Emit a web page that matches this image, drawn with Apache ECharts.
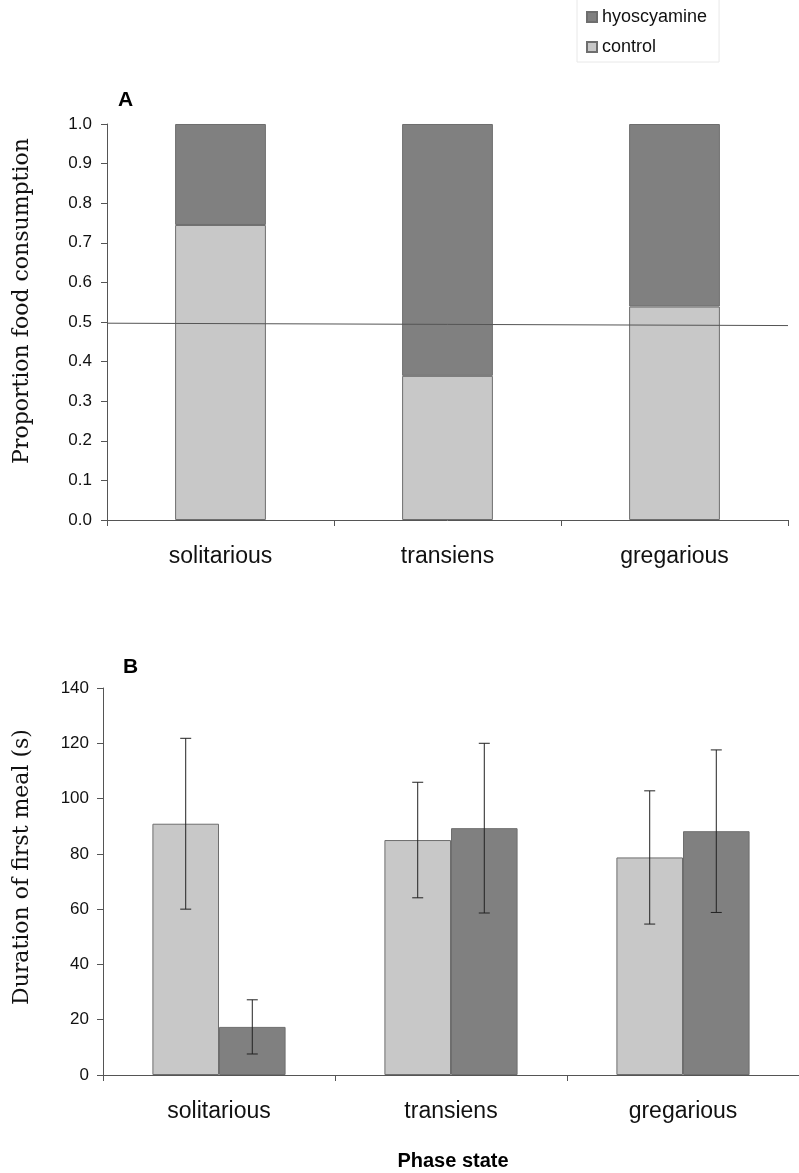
<!DOCTYPE html>
<html><head><meta charset="utf-8">
<script src="https://cdn.jsdelivr.net/npm/echarts@6/dist/echarts.min.js"></script>
<style>html,body{margin:0;padding:0;background:#fff}#c{width:799px;height:1173px}</style>
</head><body><div id="c"></div>
<script>
const categories = ['solitarious', 'transiens', 'gregarious'];
// Panel A: proportion food consumption (stacked)
const propControl = [0.745, 0.364, 0.539];
const propHyoscyamine = [0.255, 0.636, 0.461];
const refLine = [[0, 0.497], [1, 0.491]];
const yTicksA = ['0.0','0.1','0.2','0.3','0.4','0.5','0.6','0.7','0.8','0.9','1.0'];
// Panel B: duration of first meal (s), mean and error
const durControl = [90.9, 85.0, 78.7];
const durControlErr = [30.9, 20.9, 24.1];
const durHyoscyamine = [17.4, 89.3, 88.2];
const durHyoscyamineErr = [9.8, 30.7, 29.4];

const cLight = '#c8c8c8', cDark = '#808080', border = '#6e6e6e', axisCol = '#555';
const sans = 'Liberation Sans, Arial, sans-serif';
const serif = 'DejaVu Serif, serif';
const gapB = 0.426;

const chart = echarts.init(document.getElementById('c'));

function errItem(sign) {
  return function (params, api) {
    const i = api.value(0);
    const v = api.value(1), e = api.value(2);
    const c = api.coord([i, v]);
    const band = api.size([1, 0])[0];
    const bw = band * (1 - gapB) / 2;
    const x = c[0] + sign * bw / 2;
    const top = api.coord([i, v + e])[1];
    const bot = api.coord([i, v - e])[1];
    const cap = 5.5;
    const st = { stroke: '#222', lineWidth: 1 };
    return { type: 'group', children: [
      { type: 'line', shape: { x1: x, y1: top, x2: x, y2: bot }, style: st },
      { type: 'line', shape: { x1: x - cap, y1: top, x2: x + cap, y2: top }, style: st },
      { type: 'line', shape: { x1: x - cap, y1: bot, x2: x + cap, y2: bot }, style: st }
    ]};
  };
}

const axisLineStyle = { lineStyle: { color: axisCol, width: 1 } };

chart.setOption({
  animation: false,
  backgroundColor: '#fff',
  legend: {
    data: ['hyoscyamine', 'control'],
    orient: 'vertical',
    left: 577, top: -1,
    padding: [9, 12, 6, 9],
    itemWidth: 10, itemHeight: 10, itemGap: 12,
    borderColor: '#e8e8e8', borderWidth: 1,
    textStyle: { fontFamily: sans, fontSize: 18, color: '#111' },
    icon: 'rect'
  },
  title: [
    { text: 'A', left: 118, top: 90, padding: 0, textStyle: { fontFamily: sans, fontSize: 21, fontWeight: 'bold', color: '#000' } },
    { text: 'B', left: 123, top: 657, padding: 0, textStyle: { fontFamily: sans, fontSize: 21, fontWeight: 'bold', color: '#000' } },
    { text: 'Phase state', left: 453, top: 1151, padding: 0, textAlign: 'center', textStyle: { fontFamily: sans, fontSize: 20, fontWeight: 'bold', color: '#000' } }
  ],
  grid: [
    { left: 107, top: 124, right: 11, height: 396 },
    { left: 103, top: 688, right: -5, height: 387 }
  ],
  xAxis: [
    { type: 'category', gridIndex: 0, data: categories,
      axisLine: axisLineStyle, axisTick: { show: true, length: 6, lineStyle: { color: axisCol } },
      axisLabel: { fontFamily: sans, fontSize: 23, color: '#111', margin: 25 } },
    { type: 'category', gridIndex: 1, data: categories,
      axisLine: axisLineStyle, axisTick: { show: true, length: 6, lineStyle: { color: axisCol } },
      axisLabel: { fontFamily: sans, fontSize: 23, color: '#111', margin: 25 } },
    { type: 'value', gridIndex: 0, min: 0, max: 1, show: false }
  ],
  yAxis: [
    { type: 'value', gridIndex: 0, min: 0, max: 1, interval: 0.1,
      name: 'Proportion food consumption', nameLocation: 'middle', nameGap: 74, nameRotate: 90,
      nameTextStyle: { fontFamily: serif, fontSize: 22, color: '#111', padding: [0, 0, 0, 42] },
      axisLine: { show: true, lineStyle: { color: axisCol } },
      axisTick: { show: true, length: 6, lineStyle: { color: axisCol } },
      splitLine: { show: false },
      axisLabel: { fontFamily: sans, fontSize: 17, color: '#111', margin: 15,
        formatter: function (v) { return yTicksA[Math.round(v * 10)]; } } },
    { type: 'value', gridIndex: 1, min: 0, max: 140, interval: 20,
      name: 'Duration of first meal (s)', nameLocation: 'middle', nameGap: 70, nameRotate: 90,
      nameTextStyle: { fontFamily: serif, fontSize: 22, color: '#111', padding: [0, 0, 0, 29] },
      axisLine: { show: true, lineStyle: { color: axisCol } },
      axisTick: { show: true, length: 6, lineStyle: { color: axisCol } },
      splitLine: { show: false },
      axisLabel: { fontFamily: sans, fontSize: 17, color: '#111', margin: 14 } }
  ],
  series: [
    { name: 'control', type: 'bar', xAxisIndex: 0, yAxisIndex: 0, stack: 'a', data: propControl,
      barCategoryGap: '60%', itemStyle: { color: cLight, borderColor: border, borderWidth: 1 } },
    { name: 'hyoscyamine', type: 'bar', xAxisIndex: 0, yAxisIndex: 0, stack: 'a', data: propHyoscyamine,
      barCategoryGap: '60%', itemStyle: { color: cDark, borderColor: border, borderWidth: 1 } },
    { name: 'ref', type: 'line', xAxisIndex: 2, yAxisIndex: 0, data: refLine, symbol: 'none',
      lineStyle: { color: '#555', width: 1 }, z: 5, silent: true },
    { name: 'control', type: 'bar', xAxisIndex: 1, yAxisIndex: 1, data: durControl,
      barGap: '0%', barCategoryGap: (gapB * 100) + '%', itemStyle: { color: cLight, borderColor: border, borderWidth: 1 } },
    { name: 'hyoscyamine', type: 'bar', xAxisIndex: 1, yAxisIndex: 1, data: durHyoscyamine,
      barGap: '0%', barCategoryGap: (gapB * 100) + '%', itemStyle: { color: cDark, borderColor: border, borderWidth: 1 } },
    { name: 'errControl', type: 'custom', xAxisIndex: 1, yAxisIndex: 1, z: 10, silent: true,
      renderItem: errItem(-1),
      data: durControl.map(function (v, i) { return [i, v, durControlErr[i]]; }) },
    { name: 'errHyo', type: 'custom', xAxisIndex: 1, yAxisIndex: 1, z: 10, silent: true,
      renderItem: errItem(1),
      data: durHyoscyamine.map(function (v, i) { return [i, v, durHyoscyamineErr[i]]; }) }
  ]
});
</script></body></html>
